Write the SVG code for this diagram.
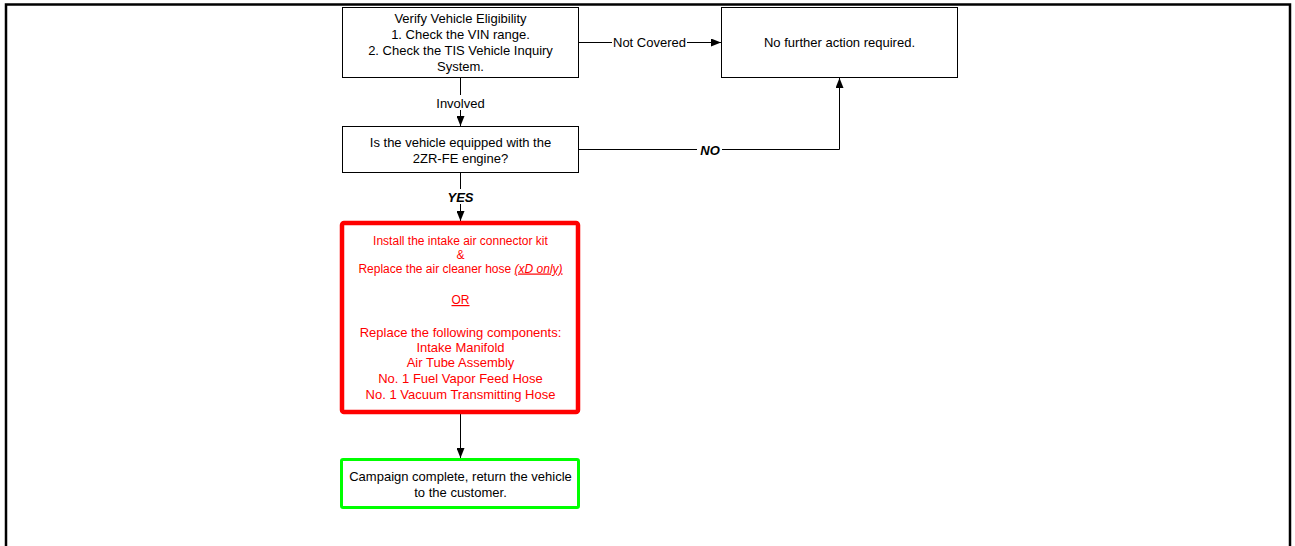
<svg xmlns="http://www.w3.org/2000/svg" width="1295" height="546" viewBox="0 0 1295 546">
<defs>
<style>
.t{font-family:"Liberation Sans",Arial,sans-serif;font-size:13px;fill:#000;text-anchor:middle}
.r{fill:#ff0000}
.s{font-size:12px}
.bi{font-weight:bold;font-style:italic}
.box{fill:#fff;stroke:#000;stroke-width:1}
.ln{fill:none;stroke:#000;stroke-width:1}
.bg{fill:#fff}
</style>
<marker id="ah" viewBox="0 0 10 8" refX="10" refY="4" markerWidth="10" markerHeight="8" markerUnits="userSpaceOnUse" orient="auto">
<path d="M0,0 L10,4 L0,8 Z" fill="#000"/>
</marker>
</defs>
<rect width="1295" height="546" fill="#fff"/>
<path d="M6,546 V4.5 H1290 V546" fill="none" stroke="#000" stroke-width="2.5"/>
<g id="connectors">
<path class="ln" d="M460.5,78 V126" marker-end="url(#ah)"/>
<rect class="bg" x="433" y="95" width="55" height="15"/>
<text class="t" x="460.5" y="107.5">Involved</text>
<path class="ln" d="M578,42.5 H721" marker-end="url(#ah)"/>
<rect class="bg" x="612" y="35" width="75" height="15"/>
<text class="t" x="649.5" y="47">Not Covered</text>
<path class="ln" d="M578,149.5 H839.5 V78" marker-end="url(#ah)"/>
<rect class="bg" x="697" y="143" width="25" height="14"/>
<text class="t bi" x="710" y="155">NO</text>
<path class="ln" d="M460.5,172 V221" marker-end="url(#ah)"/>
<rect class="bg" x="445" y="189" width="31" height="15"/>
<text class="t bi" x="460.5" y="201.5">YES</text>
<path class="ln" d="M460.5,413 V458" marker-end="url(#ah)"/>
</g>
<g id="verify">
<rect class="box" x="342.5" y="7.5" width="236" height="70"/>
<text class="t" x="460.5" y="22.5">Verify Vehicle Eligibility</text>
<text class="t" x="460.5" y="38.5">1. Check the VIN range.</text>
<text class="t" x="460.5" y="54.5">2. Check the TIS Vehicle Inquiry</text>
<text class="t" x="460.5" y="70.5">System.</text>
</g>
<g id="nofurther">
<rect class="box" x="721.5" y="7.5" width="236" height="70"/>
<text class="t" x="839.5" y="47">No further action required.</text>
</g>
<g id="engine">
<rect class="box" x="342.5" y="126.5" width="236" height="46"/>
<text class="t" x="460.5" y="146.5">Is the vehicle equipped with the</text>
<text class="t" x="460.5" y="162.5">2ZR-FE engine?</text>
</g>
<g id="repair">
<rect x="342" y="223" width="236" height="189" rx="2" fill="#fff" stroke="#ff0000" stroke-width="4.5"/>
<text class="t r s" x="460.5" y="244.5">Install the intake air connector kit</text>
<text class="t r s" x="460.5" y="258.5">&amp;</text>
<text class="t r s" x="460.5" y="272.5">Replace the air cleaner hose <tspan font-style="italic" text-decoration="underline">(xD only)</tspan></text>
<text class="t r s" x="460.5" y="304" text-decoration="underline">OR</text>
<text class="t r" x="460.5" y="336.5">Replace the following components:</text>
<text class="t r" x="460.5" y="351.5">Intake Manifold</text>
<text class="t r" x="460.5" y="366.5">Air Tube Assembly</text>
<text class="t r" x="460.5" y="382.5">No. 1 Fuel Vapor Feed Hose</text>
<text class="t r" x="460.5" y="399">No. 1 Vacuum Transmitting Hose</text>
</g>
<g id="complete">
<rect x="341.5" y="459.5" width="237" height="48" rx="1.5" fill="#fff" stroke="#00ff00" stroke-width="3"/>
<text class="t" x="460.5" y="480.5">Campaign complete, return the vehicle</text>
<text class="t" x="460.5" y="496.5">to the customer.</text>
</g>
</svg>
